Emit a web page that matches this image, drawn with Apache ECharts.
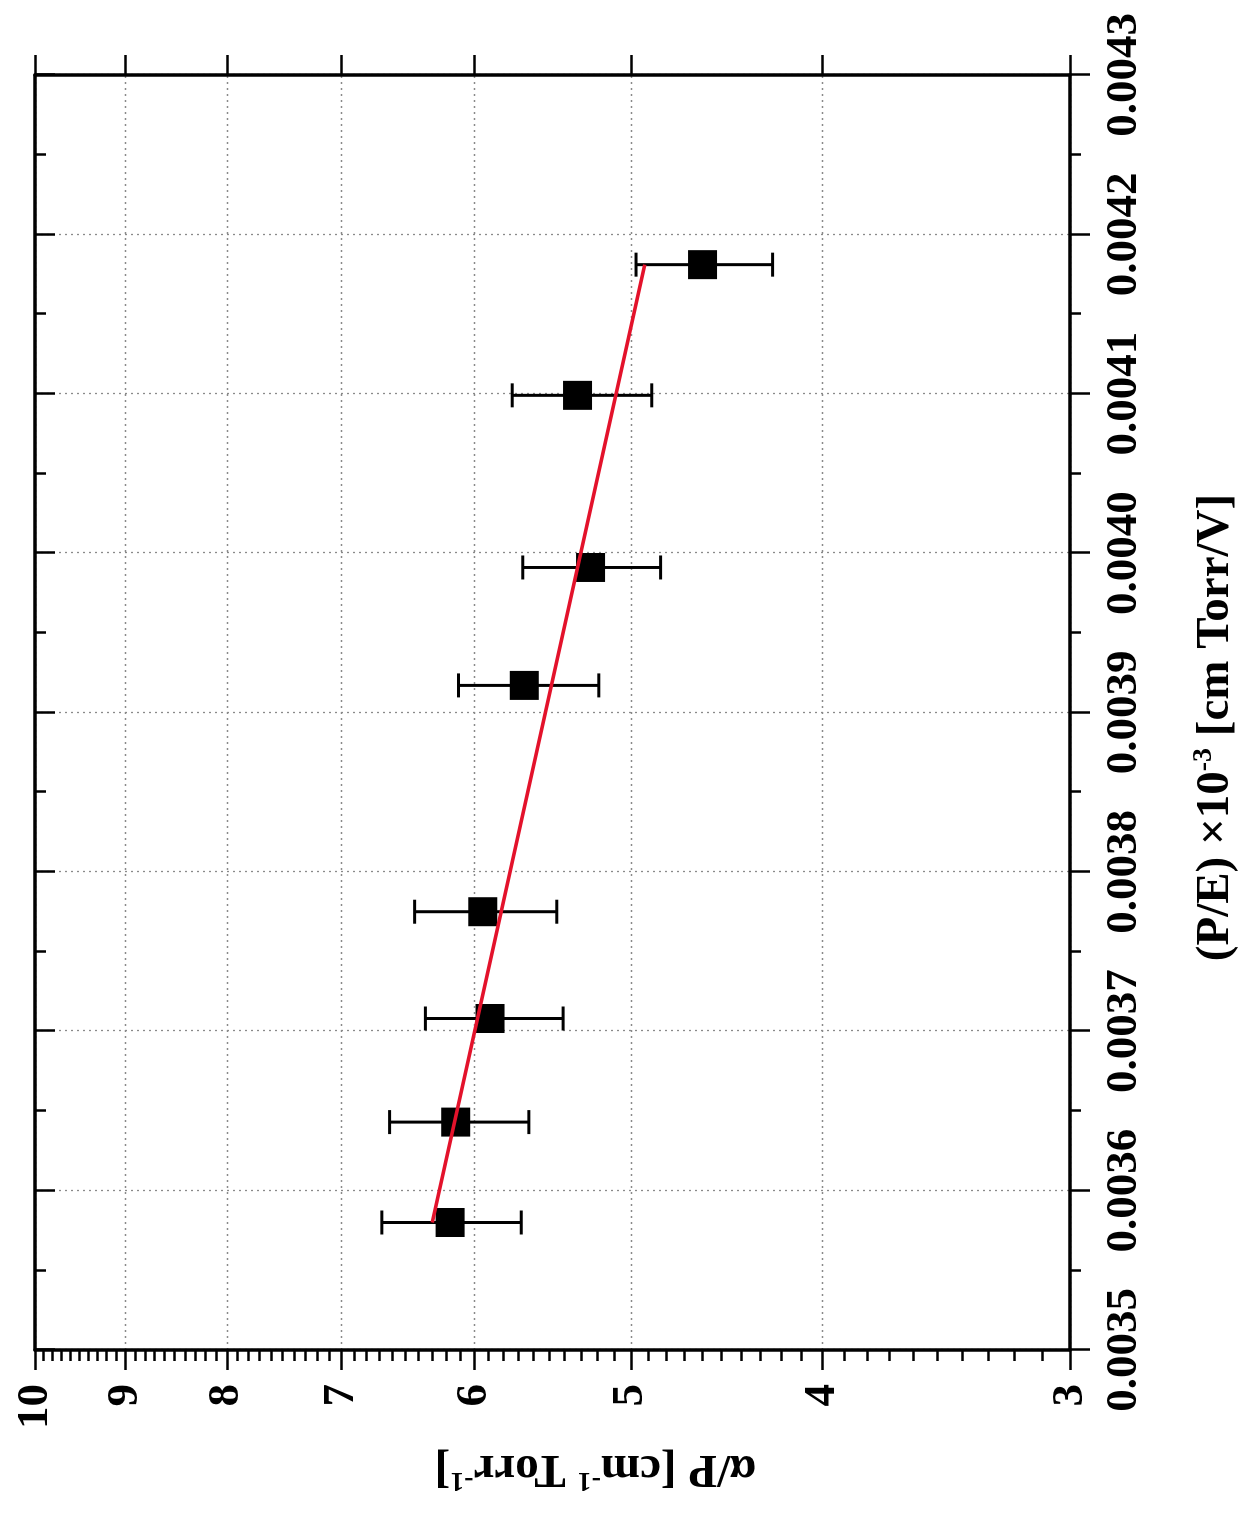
<!DOCTYPE html>
<html>
<head>
<meta charset="utf-8">
<script src="https://cdn.jsdelivr.net/npm/echarts@6/dist/echarts.min.js"></script>
<style>
html,body{margin:0;padding:0;background:#fff;overflow:hidden;width:1248px;height:1526px;}
#wrap{position:absolute;left:0;top:0;width:1526px;height:1248px;transform-origin:0 0;transform:translateY(1526px) rotate(-90deg);}
</style>
</head>
<body>
<div id="wrap"></div>
<script>
// P/E (cm Torr/V) values of measured points
const peValues   = [0.003580, 0.003643, 0.003708, 0.003775, 0.003917, 0.003991, 0.004099, 0.004181];
// alpha/P (cm^-1 Torr^-1)
const alphaValues = [6.17, 6.13, 5.89, 5.94, 5.66, 5.24, 5.32, 4.60];
const alphaHigh   = [6.68, 6.62, 6.35, 6.43, 6.11, 5.67, 5.74, 4.97];
const alphaLow    = [5.68, 5.63, 5.41, 5.45, 5.19, 4.83, 4.88, 4.24];
// linear fit endpoints
const fitPE    = [0.003580, 0.004181];
const fitAlpha = [6.30, 4.92];
// axis ticks
const peMin = 0.0035, peMax = 0.0043, peStep = 0.0001;
const alphaTicks = [3, 4, 5, 6, 7, 8, 9, 10];
const alphaMinorTicks = [];
for (let k = 31; k < 100; k++) { if (k % 10 !== 0) alphaMinorTicks.push(k / 10); }

const L = Math.log10;
const FONT = 'Liberation Serif';
const yMin = L(3), yMax = L(10);
const gridRect = {left: 176, right: 75, top: 35, bottom: 178};
const axisLineStyle = {color: '#000', width: 3.5};
const splitStyle = {show: true, lineStyle: {color: '#8a8a8a', width: 1.3, type: [2, 4]}};

const chart = echarts.init(document.getElementById('wrap'), null, {width: 1526, height: 1248});

const option = {
  animation: false,
  backgroundColor: '#fff',
  grid: [
    Object.assign({containLabel: false}, gridRect),
    Object.assign({containLabel: false}, gridRect)
  ],
  xAxis: [
    {
      type: 'value', gridIndex: 0, position: 'bottom',
      min: peMin, max: peMax, interval: peStep,
      axisLine: {show: true, onZero: false, lineStyle: axisLineStyle},
      axisTick: {show: true, inside: false, length: 20, lineStyle: {color: '#000', width: 2.5}},
      minorTick: {show: true, splitNumber: 2, length: 11, lineStyle: {color: '#000', width: 2.5}},
      axisLabel: {show: true, margin: 32, fontFamily: FONT, fontWeight: 'bold', fontSize: 45, color: '#000',
        formatter: v => v.toFixed(4)},
      splitLine: splitStyle,
      name: '{a|(P/E) ×10}{s|-3}{a| [cm Torr/V]}',
      nameLocation: 'middle', nameGap: 120,
      nameTextStyle: {padding: [0, 30, 0, 0], rich: {
        a: {fontFamily: FONT, fontWeight: 'bold', fontSize: 47, color: '#000', lineHeight: 52},
        s: {fontFamily: FONT, fontWeight: 'bold', fontSize: 28, color: '#000', lineHeight: 30, verticalAlign: 'top'}
      }}
    },
    {
      type: 'value', gridIndex: 0, position: 'top',
      min: peMin, max: peMax, interval: peStep,
      axisLine: {show: true, onZero: false, lineStyle: axisLineStyle},
      axisTick: {show: true, inside: true, length: 20, lineStyle: {color: '#000', width: 2.5}},
      minorTick: {show: true, splitNumber: 2, length: 11, lineStyle: {color: '#000', width: 2.5}},
      axisLabel: {show: false},
      splitLine: {show: false}
    },
    {
      type: 'value', gridIndex: 1, show: false, min: peMin, max: peMax
    }
  ],
  yAxis: [
    {
      type: 'value', gridIndex: 0, position: 'left',
      min: yMin, max: yMax,
      axisLine: {show: true, onZero: false, lineStyle: axisLineStyle},
      axisTick: {show: true, inside: false, length: 20, customValues: alphaTicks.map(L), lineStyle: {color: '#000', width: 2.5}},
      axisLabel: {show: true, margin: 34, customValues: alphaTicks.map(L), fontFamily: FONT, fontWeight: 'bold', fontSize: 45, color: '#000',
        formatter: v => String(Math.round(Math.pow(10, v)))},
      splitLine: splitStyle,
      name: '{a|α/P [cm}{s|-1}{a| Torr}{s|-1}{a|]}',
      nameLocation: 'middle', nameGap: 92, nameRotate: 90,
      nameTextStyle: {padding: [0, 86, 0, 0], rich: {
        a: {fontFamily: FONT, fontWeight: 'bold', fontSize: 47, color: '#000', lineHeight: 52},
        s: {fontFamily: FONT, fontWeight: 'bold', fontSize: 28, color: '#000', lineHeight: 30, verticalAlign: 'top'}
      }}
    },
    {
      type: 'value', gridIndex: 0, position: 'right',
      min: yMin, max: yMax,
      axisLine: {show: true, onZero: false, lineStyle: axisLineStyle},
      axisTick: {show: true, inside: false, length: 20, customValues: alphaTicks.map(L), lineStyle: {color: '#000', width: 2.5}},
      axisLabel: {show: false},
      splitLine: {show: false}
    },
    {
      type: 'value', gridIndex: 1, position: 'left',
      min: yMin, max: yMax,
      axisLine: {show: false},
      axisTick: {show: true, inside: false, length: 11, customValues: alphaMinorTicks.map(L), lineStyle: {color: '#000', width: 2.5}},
      axisLabel: {show: false},
      splitLine: {show: false}
    }
  ],
  series: [
    {
      type: 'custom', xAxisIndex: 0, yAxisIndex: 0, z: 3,
      data: peValues.map((x, i) => [x, L(alphaLow[i]), L(alphaHigh[i])]),
      encode: {x: 0, y: [1, 2]},
      renderItem: function (params, api) {
        const x = api.value(0);
        const p1 = api.coord([x, api.value(1)]);
        const p2 = api.coord([x, api.value(2)]);
        const w = 12;
        const st = {stroke: '#000', lineWidth: 3};
        return {type: 'group', children: [
          {type: 'line', shape: {x1: p1[0], y1: p1[1], x2: p2[0], y2: p2[1]}, style: st},
          {type: 'line', shape: {x1: p1[0] - w, y1: p1[1], x2: p1[0] + w, y2: p1[1]}, style: st},
          {type: 'line', shape: {x1: p2[0] - w, y1: p2[1], x2: p2[0] + w, y2: p2[1]}, style: st}
        ]};
      }
    },
    {
      type: 'scatter', xAxisIndex: 0, yAxisIndex: 0, z: 4,
      symbol: 'rect', symbolSize: 29,
      itemStyle: {color: '#000', opacity: 1},
      data: peValues.map((x, i) => [x, L(alphaValues[i])])
    },
    {
      type: 'line', xAxisIndex: 0, yAxisIndex: 0, z: 5,
      symbol: 'none', lineStyle: {color: '#e3122b', width: 3.5},
      data: fitPE.map((x, i) => [x, L(fitAlpha[i])])
    }
  ]
};
chart.setOption(option);
</script>
</body>
</html>
